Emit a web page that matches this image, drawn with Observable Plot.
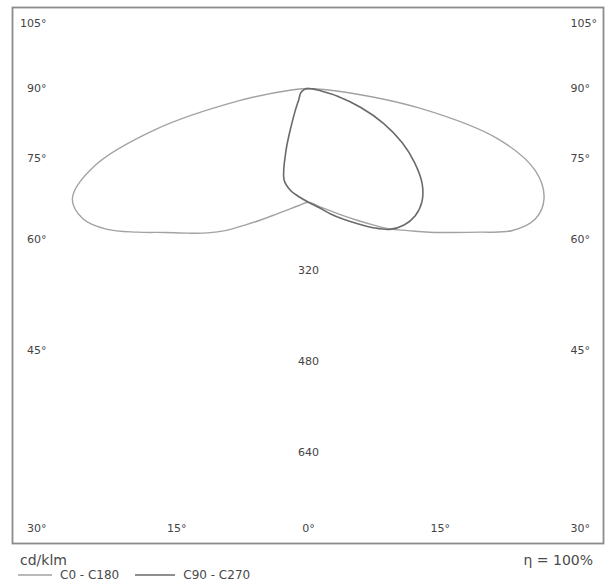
<!DOCTYPE html>
<html>
<head>
<meta charset="utf-8">
<script src="https://cdn.jsdelivr.net/npm/d3@7"></script>
<script src="https://cdn.jsdelivr.net/npm/@observablehq/plot@0.6"></script>
<style>
  body { margin: 0; background: #fff; font-family: "DejaVu Sans", sans-serif; color: #4a4a4a; }
  #wrap { position: relative; width: 613px; height: 586px; overflow: hidden; }
  #chart { position: absolute; left: 0; top: 0; }
  .unit { position: absolute; left: 20px; top: 552px; font-size: 14px; line-height: 16px; }
  .eta { position: absolute; right: 20px; top: 552px; font-size: 14px; line-height: 16px; }
  .legend { position: absolute; left: 18px; top: 568px; font-size: 12px; line-height: 14px; display: flex; align-items: center; white-space: nowrap; }
  .legend svg { display: block; margin-right: 8px; }
  .legend .item { display: flex; align-items: center; margin-right: 16px; }
</style>
</head>
<body>
<div id="wrap">
  <div id="chart"></div>
  <div class="unit">cd/klm</div>
  <div class="eta">η = 100%</div>
  <div class="legend" id="legend"></div>
</div>
<script>
// Gamma angles (degrees from nadir)
const gammas = [0, 5, 10, 15, 20, 25, 30, 35, 40, 45, 50, 55, 60, 65, 70, 75, 80, 85, 90];
// Luminous intensity in cd/klm
const c0   = [200, 208, 218, 231, 246, 264, 285, 305, 330, 358, 393, 436, 460, 457, 425, 347, 197, 50, 0];
const c180 = [200, 207, 217, 230, 246, 265, 288, 310, 332, 358, 393, 432, 458, 458, 402, 279, 125, 30, 0];
const c90  = [200, 210, 224, 238, 253, 270, 286, 293, 292, 282, 261, 228, 190, 146, 98, 53, 18, 7, 0];
const c270 = [200, 191, 182, 166, 115, 71, 48, 35, 27, 23, 20, 18, 16, 13, 11, 8, 6, 3, 0];

const seriesNames = ["C0 - C180", "C90 - C270"];
const seriesColors = ["#a2a2a2", "#6a6a6a"];

const sideAngles = [105, 90, 75, 60, 45, 30];
const bottomAngles = [15, 0];
const radialTicks = [320, 480, 640];

// ---- build polar curves ----
const rad = d => d * Math.PI / 180;
function loop(leftVals, rightVals, name) {
  const pts = [];
  for (let i = gammas.length - 1; i >= 0; i--) {
    const g = rad(gammas[i]);
    pts.push({series: name, x: -leftVals[i] * Math.sin(g), y: leftVals[i] * Math.cos(g)});
  }
  for (let i = 1; i < gammas.length; i++) {
    const g = rad(gammas[i]);
    pts.push({series: name, x: rightVals[i] * Math.sin(g), y: rightVals[i] * Math.cos(g)});
  }
  return pts;
}
const curveA = loop(c180, c0, seriesNames[0]);
const curveB = loop(c270, c90, seriesNames[1]);

// ---- angle label placement (rays from the origin meeting the label box) ----
const X_MIN = -520.4, X_MAX = 518.7, Y_TOP = -142.4, Y_BOTTOM = 800;
const SIDE = 460.6;      // label column for side angles
const ROW = 773;         // label row at the bottom
const TOP_CLAMP = -115;
const clamp = (v, a, b) => Math.max(a, Math.min(b, v));
const sideLabel = a => clamp(SIDE * Math.cos(rad(a)) / Math.sin(rad(a)), TOP_CLAMP, ROW);
const leftLabels = sideAngles.map(a => ({text: a + "°", x: -SIDE, y: sideLabel(a)}));
const rightLabels = sideAngles.map(a => ({text: a + "°", x: SIDE, y: sideLabel(a)}));
const bottomLeft = bottomAngles.filter(a => a > 0).map(a => ({text: a + "°", x: -Y_BOTTOM * Math.tan(rad(a)), y: ROW}));
const bottomRight = bottomAngles.filter(a => a > 0).map(a => ({text: a + "°", x: Y_BOTTOM * Math.tan(rad(a)), y: ROW}));
const bottomMid = bottomAngles.filter(a => a === 0).map(a => ({text: a + "°", x: 0, y: ROW}));
const radial = radialTicks.map(v => ({text: String(v), x: 0, y: v}));

const txt = {fill: "#444", fontSize: 11, fontFamily: "DejaVu Sans"};

const chart = Plot.plot({
  width: 613,
  height: 548,
  marginLeft: 12,
  marginRight: 10,
  marginTop: 7,
  marginBottom: 5,
  x: {domain: [X_MIN, X_MAX], axis: null},
  y: {domain: [Y_BOTTOM, Y_TOP], axis: null},
  style: {background: "white", fontFamily: "DejaVu Sans", color: "#444"},
  marks: [
    Plot.line(curveA, {x: "x", y: "y", stroke: seriesColors[0], strokeWidth: 1.4, curve: "catmull-rom"}),
    Plot.line(curveB, {x: "x", y: "y", stroke: seriesColors[1], strokeWidth: 1.6, curve: "catmull-rom"}),
    Plot.text(leftLabels, {x: "x", y: "y", text: "text", textAnchor: "end", ...txt}),
    Plot.text(rightLabels, {x: "x", y: "y", text: "text", textAnchor: "start", ...txt}),
    Plot.text(bottomLeft, {x: "x", y: "y", text: "text", textAnchor: "end", ...txt}),
    Plot.text(bottomRight, {x: "x", y: "y", text: "text", textAnchor: "start", ...txt}),
    Plot.text(bottomMid, {x: "x", y: "y", text: "text", textAnchor: "middle", ...txt}),
    Plot.text(radial, {x: "x", y: "y", text: "text", textAnchor: "middle", ...txt}),
    Plot.frame({stroke: "#8c8c8c", strokeWidth: 1.8})
  ]
});
document.getElementById("chart").appendChild(chart);

// legend
const legend = document.getElementById("legend");
seriesNames.forEach((name, i) => {
  const item = document.createElement("div");
  item.className = "item";
  const w = i === 0 ? 34 : 40;
  item.innerHTML = `<svg width="${w}" height="6"><line x1="0" x2="${w}" y1="3" y2="3" stroke="${seriesColors[i]}" stroke-width="${i === 0 ? 1.4 : 1.6}"/></svg><span>${name}</span>`;
  legend.appendChild(item);
});
</script>
</body>
</html>
